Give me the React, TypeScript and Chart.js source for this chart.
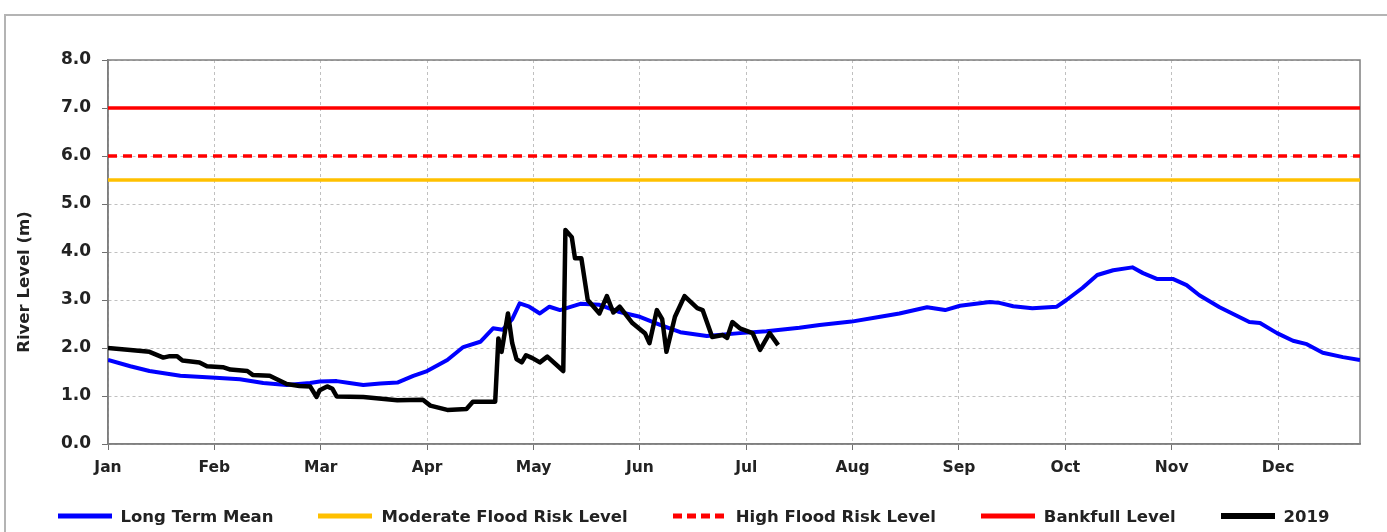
import React, { useEffect, useRef } from "react";
import Chart from "chart.js/auto";

// ---- Data (x = position in months from 1 Jan, y = river level in m) ----
const MONTHS = ["Jan", "Feb", "Mar", "Apr", "May", "Jun", "Jul", "Aug", "Sep", "Oct", "Nov", "Dec"];
const X_MIN = 0;
const X_MAX = 11.77;

const LTM_X = [0, 0.21, 0.39, 0.68, 1.01, 1.24, 1.46, 1.68, 1.9, 1.99, 2.15, 2.27, 2.4, 2.56, 2.72, 2.87, 3.0, 3.19, 3.34, 3.5, 3.62, 3.71, 3.8, 3.87, 3.96, 4.06, 4.15, 4.25, 4.44, 4.62, 4.81, 5.0, 5.19, 5.38, 5.63, 5.94, 6.19, 6.5, 6.69, 6.99, 7.26, 7.44, 7.7, 7.87, 8.01, 8.29, 8.38, 8.51, 8.69, 8.92, 9.01, 9.16, 9.3, 9.45, 9.63, 9.73, 9.86, 10.01, 10.14, 10.26, 10.45, 10.73, 10.83, 10.99, 11.14, 11.27, 11.42, 11.61, 11.77];
const LTM_Y = [1.75, 1.62, 1.52, 1.42, 1.38, 1.35, 1.27, 1.23, 1.27, 1.3, 1.31, 1.27, 1.23, 1.26, 1.28, 1.42, 1.52, 1.75, 2.02, 2.13, 2.41, 2.38, 2.6, 2.93, 2.86, 2.72, 2.86, 2.79, 2.92, 2.9, 2.75, 2.65, 2.48, 2.33, 2.25, 2.31, 2.35, 2.42, 2.48, 2.55, 2.65, 2.72, 2.85, 2.79, 2.88, 2.96, 2.94, 2.87, 2.83, 2.86, 3.0, 3.25, 3.52, 3.62, 3.68, 3.56, 3.44, 3.44, 3.31, 3.1, 2.85, 2.54, 2.52, 2.31, 2.15, 2.08, 1.9, 1.81, 1.75];

const Y2019_X = [0, 0.21, 0.39, 0.52, 0.58, 0.65, 0.7, 0.86, 0.93, 1.08, 1.15, 1.31, 1.36, 1.52, 1.68, 1.8, 1.9, 1.96, 1.99, 2.06, 2.11, 2.15, 2.4, 2.72, 2.96, 3.03, 3.19, 3.37, 3.43, 3.64, 3.67, 3.7, 3.76, 3.8, 3.84, 3.89, 3.93, 3.99, 4.06, 4.13, 4.28, 4.3, 4.36, 4.39, 4.45, 4.51, 4.62, 4.69, 4.75, 4.81, 4.93, 5.05, 5.09, 5.16, 5.21, 5.25, 5.33, 5.42, 5.54, 5.59, 5.68, 5.78, 5.82, 5.87, 5.94, 6.06, 6.13, 6.22, 6.3];
const Y2019_Y = [2.0, 1.96, 1.92, 1.8, 1.83, 1.83, 1.74, 1.7, 1.62, 1.6, 1.55, 1.52, 1.44, 1.42, 1.25, 1.21, 1.2, 0.98, 1.12, 1.2, 1.15, 0.99, 0.98, 0.91, 0.92, 0.8, 0.71, 0.73, 0.88, 0.88, 2.2, 1.92, 2.72, 2.1, 1.77, 1.7, 1.85, 1.79, 1.7, 1.82, 1.52, 4.46, 4.31, 3.87, 3.87, 3.0, 2.72, 3.08, 2.74, 2.86, 2.52, 2.3, 2.1, 2.79, 2.6, 1.92, 2.65, 3.08, 2.83, 2.79, 2.23, 2.27, 2.21, 2.54, 2.41, 2.31, 1.96, 2.31, 2.06];

const MODERATE_LEVEL = 5.5;
const HIGH_LEVEL = 6.0;
const BANKFULL_LEVEL = 7.0;

const SERIES_NAMES = ["Long Term Mean", "Moderate Flood Risk Level", "High Flood Risk Level", "Bankfull Level", "2019"];
const SERIES_COLORS = ["#0000ff", "#ffc000", "#ff0000", "#ff0000", "#000000"];
const SERIES_DASH: number[][] = [[], [], [9, 6], [], []];
const SERIES_WIDTH = [4, 3.5, 3.5, 3.5, 4.5];
const LEGEND_WIDTH = [5, 5, 5, 5, 6];

const FONT = "'DejaVu Sans', sans-serif";
const TEXT = "#222222";

const zip = (xs: number[], ys: number[]) => xs.map((x, i) => ({ x, y: ys[i] }));
const flat = (v: number) => [{ x: X_MIN, y: v }, { x: X_MAX, y: v }];

export default function App() {
  const ref = useRef<HTMLCanvasElement | null>(null);

  useEffect(() => {
    if (!ref.current) return;
    const seriesData = [
      zip(LTM_X, LTM_Y),
      flat(MODERATE_LEVEL),
      flat(HIGH_LEVEL),
      flat(BANKFULL_LEVEL),
      zip(Y2019_X, Y2019_Y),
    ];
    const orders = [1, 2, 3, 4, 0];

    const frame = {
      id: "plotFrame",
      beforeDatasetsDraw(chart: any) {
        const { ctx, chartArea: a } = chart;
        ctx.save();
        ctx.strokeStyle = "#7f7f7f";
        ctx.lineWidth = 1.5;
        ctx.strokeRect(a.left, a.top, a.right - a.left, a.bottom - a.top);
        ctx.restore();
      },
      afterDraw(chart: any) {
        const { ctx, chartArea: a } = chart;
        ctx.save();
        ctx.translate(a.left - 83, (a.top + a.bottom) / 2 + 30);
        ctx.rotate(-Math.PI / 2);
        ctx.font = `bold 16.5px ${FONT}`;
        ctx.fillStyle = TEXT;
        ctx.textAlign = "center";
        ctx.textBaseline = "middle";
        ctx.fillText("River Level (m)", 0, 0);
        ctx.restore();
      },
    };

    const chart = new Chart(ref.current, {
      type: "line",
      data: {
        datasets: SERIES_NAMES.map((name, i) => ({
          label: name,
          data: seriesData[i],
          borderColor: SERIES_COLORS[i],
          backgroundColor: SERIES_COLORS[i],
          borderWidth: SERIES_WIDTH[i],
          borderDash: SERIES_DASH[i],
          pointRadius: 0,
          tension: 0,
          fill: false,
          borderJoinStyle: "round" as const,
          borderCapStyle: "butt" as const,
          order: orders[i],
        })),
      },
      options: {
        responsive: false,
        animation: false,
        parsing: false as any,
        layout: { padding: { left: 0, top: 60, right: 27, bottom: 0 } },
        plugins: {
          legend: { display: false },
          tooltip: { enabled: false },
        },
        scales: {
          x: {
            type: "linear",
            min: X_MIN,
            max: X_MAX,
            afterFit: (s: any) => {
              s.height = 88;
            },
            ticks: {
              stepSize: 1,
              includeBounds: false,
              autoSkip: false,
              maxRotation: 0,
              padding: 9,
              color: TEXT,
              font: { family: FONT, size: 15.5, weight: "bold" },
              callback: (v: any) => MONTHS[Math.round(Number(v))] ?? "",
            },
            grid: {
              color: "#c0c0c0",
              lineWidth: 1,
              tickLength: 6,
              tickColor: "#6f6f6f",
            },
            border: { display: true, color: "#7f7f7f", width: 1.5, dash: [3, 3] },
          },
          y: {
            min: 0,
            max: 8,
            afterFit: (s: any) => {
              s.width = 108;
            },
            ticks: {
              stepSize: 1,
              padding: 11,
              color: TEXT,
              font: { family: FONT, size: 17, weight: "bold" },
              callback: (v: any) => Number(v).toFixed(1),
            },
            grid: {
              color: "#c0c0c0",
              lineWidth: 1,
              tickLength: 6,
              tickColor: "#6f6f6f",
            },
            border: { display: true, color: "#7f7f7f", width: 1.5, dash: [3, 3] },
          },
        },
      },
      plugins: [frame],
    } as any);
    return () => chart.destroy();
  }, []);

  return (
    <div style={{ position: "fixed", left: 0, top: 0, width: 1387, height: 532, background: "#fff", overflow: "hidden" }}>
      <div
        style={{
          position: "absolute",
          left: 4,
          top: 14,
          width: 1500,
          height: 600,
          border: "2px solid #b4b4b4",
        }}
      />
      <canvas
        ref={ref}
        width={1387}
        height={532}
        style={{ position: "absolute", left: 0, top: 0, width: 1387, height: 532 }}
      />
      <div
        style={{
          position: "absolute",
          left: 0,
          top: 504,
          width: 1387,
          height: 24,
          display: "flex",
          justifyContent: "center",
          alignItems: "center",
          gap: 45,
          fontFamily: FONT,
          fontWeight: "bold",
          fontSize: 16.5,
          color: TEXT,
          whiteSpace: "nowrap",
        }}
      >
        {SERIES_NAMES.map((name, i) => (
          <div key={name} style={{ display: "flex", alignItems: "center" }}>
            <svg width={54} height={10} style={{ display: "block" }}>
              <line
                x1={0}
                y1={5}
                x2={54}
                y2={5}
                stroke={SERIES_COLORS[i]}
                strokeWidth={LEGEND_WIDTH[i]}
                strokeDasharray={SERIES_DASH[i].length ? "9 5" : undefined}
                strokeLinecap={SERIES_DASH[i].length ? "butt" : "round"}
              />
            </svg>
            <span style={{ marginLeft: 9 }}>{name}</span>
          </div>
        ))}
      </div>
    </div>
  );
}
